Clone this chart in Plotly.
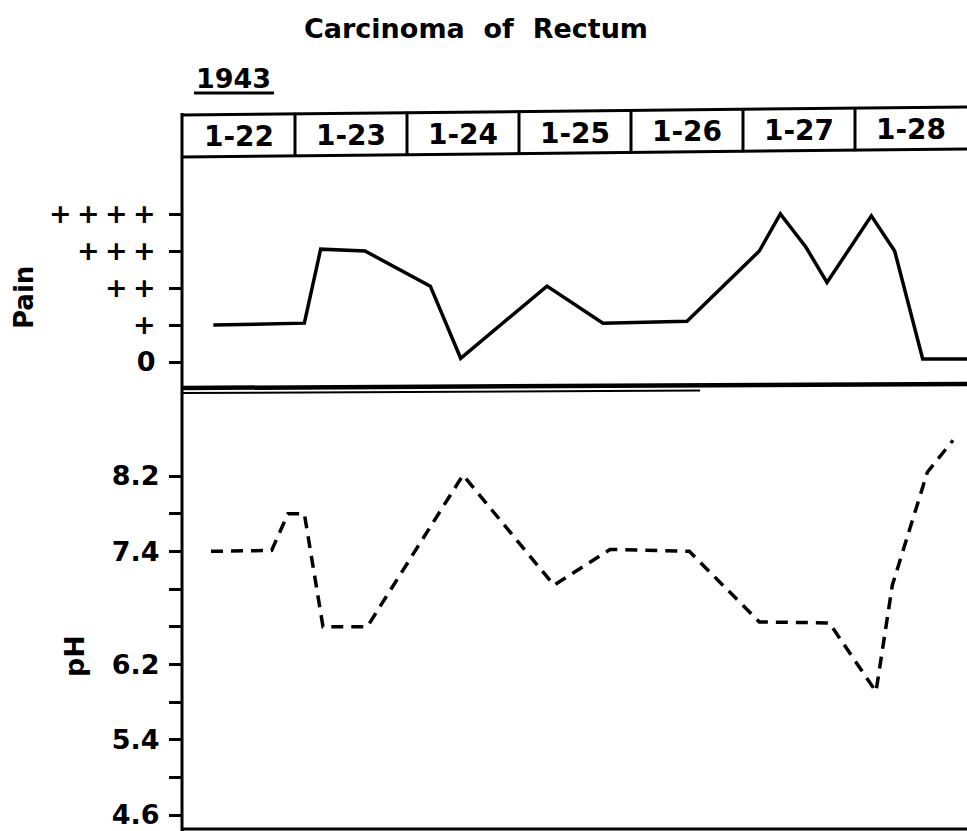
import plotly.graph_objects as go

# ---------------- data ----------------
day_labels = ["1-22", "1-23", "1-24", "1-25", "1-26", "1-27", "1-28"]
day_dates = ["1943-01-22", "1943-01-23", "1943-01-24", "1943-01-25",
             "1943-01-26", "1943-01-27", "1943-01-28"]

pain_times = ["1943-01-22 06:30", "1943-01-23 02:00", "1943-01-23 05:30",
              "1943-01-23 15:00", "1943-01-24 05:00", "1943-01-24 11:30",
              "1943-01-25 06:00", "1943-01-25 18:00", "1943-01-26 12:00",
              "1943-01-27 03:30", "1943-01-27 08:00", "1943-01-27 13:30",
              "1943-01-27 18:00", "1943-01-28 03:30", "1943-01-28 08:30",
              "1943-01-28 14:30", "1943-01-29 00:00"]
pain_values = [1.0, 1.05, 3.05, 3.0, 2.05, 0.1, 2.05, 1.05, 1.1,
               3.0, 4.0, 3.1, 2.15, 3.95, 3.0, 0.08, 0.08]

ph_times = ["1943-01-22 06:00", "1943-01-22 19:00", "1943-01-22 22:30",
            "1943-01-23 02:00", "1943-01-23 06:00", "1943-01-23 15:30",
            "1943-01-24 12:00", "1943-01-25 07:30", "1943-01-25 19:30",
            "1943-01-26 12:30", "1943-01-27 03:30", "1943-01-27 18:30",
            "1943-01-28 04:30", "1943-01-28 08:00", "1943-01-28 15:30",
            "1943-01-28 21:00"]
ph_values = [7.4, 7.41, 7.8, 7.8, 6.6, 6.6, 8.21, 7.04, 7.42, 7.4,
             6.65, 6.64, 5.91, 7.04, 8.24, 8.58]

pain_tickvals = [0, 1, 2, 3, 4]
pain_ticktext = ["0", "+", "+\u2009+", "+\u2009+\u2009+", "+\u2009+\u2009+\u2009+"]

ph_tickvals = [8.2, 7.8, 7.4, 7.0, 6.6, 6.2, 5.8, 5.4, 5.0, 4.6]
ph_ticktext = ["8.2", "", "7.4", "", "", "6.2", "", "5.4", "", "4.6"]

title_text = "Carcinoma\u00a0\u00a0of\u00a0\u00a0Rectum"
year_text = "1943"

# ---------------- layout helpers ----------------
W, H = 967, 831
L = 182
PW = W - L


def px_x(px):
    return (px - L) / PW


def px_y(py):
    return 1 - py / H


FONT = "DejaVu Sans"
BLACK = "#000000"

fig = go.Figure()

fig.add_trace(go.Scatter(
    x=pain_times, y=pain_values, xaxis="x", yaxis="y2", mode="lines",
    line=dict(color=BLACK, width=3.5), showlegend=False, hoverinfo="skip"))

fig.add_trace(go.Scatter(
    x=ph_times, y=ph_values, xaxis="x", yaxis="y", mode="lines",
    line=dict(color=BLACK, width=3.5, dash="12px,8px"), showlegend=False,
    hoverinfo="skip"))

shapes = []
# left axis line
shapes.append(dict(type="line", xref="paper", yref="paper",
                   x0=0, x1=0, y0=px_y(113), y1=0,
                   line=dict(color=BLACK, width=3)))
# header box (slightly tilted like the scan)
tilt = 8
shapes.append(dict(type="line", xref="paper", yref="paper",
                   x0=0, x1=1, y0=px_y(115), y1=px_y(115 - tilt),
                   line=dict(color=BLACK, width=3)))
shapes.append(dict(type="line", xref="paper", yref="paper",
                   x0=0, x1=1, y0=px_y(157), y1=px_y(157 - tilt),
                   line=dict(color=BLACK, width=3)))
for i, d in enumerate(day_dates[1:], start=1):
    frac = i / 7
    shapes.append(dict(type="line", xref="x", yref="paper",
                       x0=d, x1=d,
                       y0=px_y(115 - tilt * frac - 1), y1=px_y(157 - tilt * frac + 1),
                       line=dict(color=BLACK, width=3)))
# double separator line
shapes.append(dict(type="line", xref="paper", yref="paper",
                   x0=0, x1=1, y0=px_y(388), y1=px_y(384),
                   line=dict(color=BLACK, width=4.5)))
shapes.append(dict(type="line", xref="paper", yref="paper",
                   x0=0, x1=0.66, y0=px_y(393), y1=px_y(390.5),
                   line=dict(color=BLACK, width=2)))
# bottom line
shapes.append(dict(type="line", xref="paper", yref="paper",
                   x0=0, x1=1, y0=px_y(829), y1=px_y(829),
                   line=dict(color=BLACK, width=3)))
# 1943 underline
shapes.append(dict(type="line", xref="paper", yref="paper",
                   x0=px_x(194), x1=px_x(274), y0=px_y(93), y1=px_y(93),
                   line=dict(color=BLACK, width=3)))

annotations = []
annotations.append(dict(text=title_text, xref="paper", yref="paper",
                        x=px_x(476), y=px_y(29), showarrow=False,
                        xanchor="center", yanchor="middle",
                        font=dict(family=FONT, size=27, color=BLACK, weight="bold")))
annotations.append(dict(text=year_text, xref="paper", yref="paper",
                        x=px_x(233), y=px_y(78), showarrow=False,
                        xanchor="center", yanchor="middle",
                        font=dict(family=FONT, size=27, color=BLACK, weight="bold")))
for i, (lab, d) in enumerate(zip(day_labels, day_dates)):
    frac = (i + 0.5) / 7
    annotations.append(dict(text=lab, xref="x", yref="paper",
                            x=d + " 12:00", y=px_y(137 - tilt * frac),
                            showarrow=False, xanchor="center", yanchor="middle",
                            font=dict(family=FONT, size=28, color=BLACK, weight="bold")))
annotations.append(dict(text="Pain", xref="paper", yref="paper",
                        x=px_x(24), y=px_y(298), showarrow=False, textangle=-90,
                        xanchor="center", yanchor="middle",
                        font=dict(family=FONT, size=26, color=BLACK, weight="bold")))
annotations.append(dict(text="pH", xref="paper", yref="paper",
                        x=px_x(74), y=px_y(656), showarrow=False, textangle=-90,
                        xanchor="center", yanchor="middle",
                        font=dict(family=FONT, size=27, color=BLACK, weight="bold")))

tickfont = dict(family=FONT, size=27, color=BLACK, weight="bold")

fig.update_layout(
    width=W, height=H, autosize=False,
    margin=dict(l=L, r=0, t=0, b=0, pad=0),
    paper_bgcolor="white", plot_bgcolor="white",
    showlegend=False,
    xaxis=dict(type="date", range=["1943-01-21 23:47:09", "1943-01-29 00:00"],
               visible=False, showgrid=False, zeroline=False),
    yaxis=dict(domain=[px_y(829), px_y(390)],
               range=[8.2 - (829 - 476) / 94.17, 8.2 + (476 - 390) / 94.17],
               tickmode="array", tickvals=ph_tickvals, ticktext=ph_ticktext,
               ticks="outside", ticklen=12, tickwidth=3, tickcolor=BLACK,
               ticklabelstandoff=4,
               showline=False, showgrid=False, zeroline=False, tickfont=tickfont),
    yaxis2=dict(domain=[px_y(385), px_y(157)],
                range=[(362 - 385) / 37, (362 - 157) / 37],
                tickmode="array", tickvals=pain_tickvals, ticktext=pain_ticktext,
                ticks="outside", ticklen=12, tickwidth=3, tickcolor=BLACK,
                ticklabelstandoff=8,
                showline=False, showgrid=False, zeroline=False, tickfont=tickfont,
                anchor="x"),
    shapes=shapes, annotations=annotations,
)

fig.write_html(
    "out.html",
    config={"displayModeBar": False},
    post_script="document.body.style.margin='0px';document.body.style.overflow='hidden';",
)
